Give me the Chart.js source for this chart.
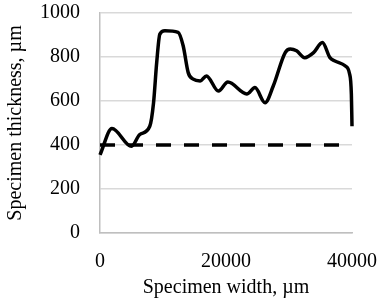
<!DOCTYPE html>
<html>
<head>
<meta charset="utf-8">
<script src="https://cdn.jsdelivr.net/npm/chart.js@4"></script>
<style>
  html, body { margin: 0; padding: 0; background: #fff; }
  #wrap { width: 383px; height: 301px; }
</style>
</head>
<body>
<div id="wrap"><canvas id="thicknessChart" width="383" height="301"></canvas></div>
<script>
// measured profile: width (um) vs thickness (um)
var widthUm = [0, 1900, 5000, 6300, 7900, 8500, 9000, 9500, 10300, 12400, 13200, 14000, 14800, 15900, 16900, 18800, 20300,
               23300, 24600, 26200, 27500, 29400, 30200, 31200, 32500, 33900, 35300, 36500, 37300, 38900, 39600, 39900, 40000];
var thicknessUm = [355, 475, 394, 447, 485, 592, 775, 904, 919, 912, 851, 729, 699, 691, 714, 645, 686,
                   632, 661, 592, 668, 820, 836, 828, 797, 820, 866, 797, 782, 760, 725, 630, 485];

// nominal thickness reference line
var nominalX = [0, 40000];
var nominalY = [400, 400];

var yTicks = [0, 200, 400, 600, 800, 1000];
var xTicks = [0, 20000, 40000];

var serif = { family: "'Liberation Serif', 'Times New Roman', serif", size: 20 };

function toPoints(xs, ys) {
    return xs.map((x, i) => ({ x: x, y: ys[i] }));
}

var ctx = document.getElementById('thicknessChart').getContext('2d');

var thicknessChart = new Chart(ctx, {
    type: 'line',
    data: {
        datasets: [
            {
                data: toPoints(widthUm, thicknessUm),
                borderColor: '#000',
                borderWidth: 3.5,
                pointRadius: 0,
                cubicInterpolationMode: 'monotone',
                clip: false,
                fill: false
            },
            {
                data: toPoints(nominalX, nominalY),
                borderColor: '#000',
                borderWidth: 3.5,
                borderDash: [15, 13],
                pointRadius: 0,
                fill: false
            }
        ]
    },
    options: {
        responsive: false,
        animation: false,
        layout: { padding: { left: 0, right: 31, top: 0, bottom: 0 } },
        plugins: {
            legend: { display: false },
            tooltip: { enabled: false }
        },
        scales: {
            x: {
                type: 'linear',
                min: 0,
                max: 40000,
                afterBuildTicks: (scale) => { scale.ticks = xTicks.map(v => ({ value: v })); },
                afterFit: (scale) => { scale.height = 68; },
                grid: { display: false, drawTicks: true, tickLength: 15, tickColor: 'transparent' },
                border: { color: '#bfbfbf', width: 1.5 },
                ticks: { color: '#000', font: serif, padding: 2, maxRotation: 0, callback: (v) => String(v) },
                title: {
                    display: true,
                    text: 'Specimen width, µm',
                    color: '#000',
                    font: serif,
                    padding: { top: 0, bottom: 1 }
                }
            },
            y: {
                min: 0,
                max: 1000,
                afterBuildTicks: (scale) => { scale.ticks = yTicks.map(v => ({ value: v })); },
                afterFit: (scale) => { scale.width = 100; },
                grid: { color: '#d9d9d9', lineWidth: 1.5, drawTicks: true, tickLength: 19, tickColor: 'transparent' },
                border: { color: '#bfbfbf', width: 1.5 },
                ticks: { color: '#000', font: serif, padding: 1, callback: (v) => String(v) },
                title: {
                    display: true,
                    text: 'Specimen thickness, µm',
                    color: '#000',
                    font: serif,
                    padding: { top: 4, bottom: 0 }
                }
            }
        }
    }
});
</script>
</body>
</html>
